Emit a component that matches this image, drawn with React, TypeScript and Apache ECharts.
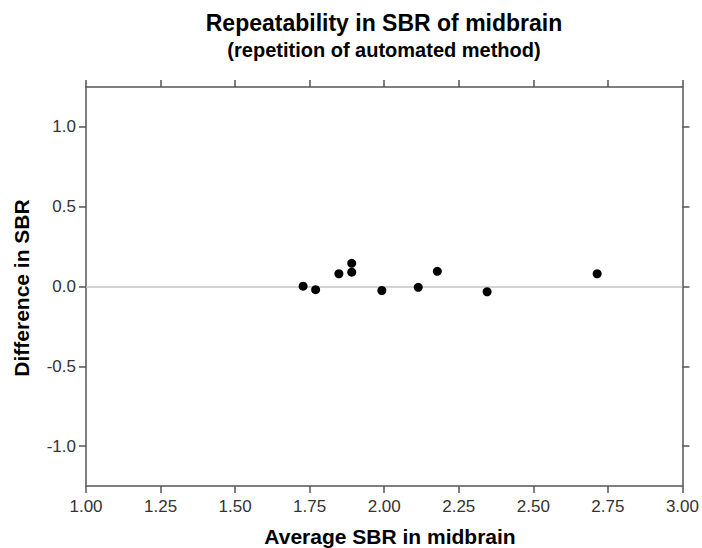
import React, { useEffect, useRef } from "react";
import * as echarts from "echarts";

const titleText = "Repeatability in SBR of midbrain";
const subtitleText = "(repetition of automated method)";
const xName = "Average SBR in midbrain";
const yName = "Difference in SBR";

const averageSBR = [1.728, 1.770, 1.848, 1.891, 1.891, 1.992, 2.114, 2.178, 2.345, 2.714];
const differenceSBR = [0.002, -0.020, 0.080, 0.145, 0.090, -0.025, -0.005, 0.095, -0.033, 0.080];

const xMin = 1.0;
const xMax = 3.0;
const xInterval = 0.25;
const yMin = -1.25;
const yMax = 1.25;
const yTicks = [-1.0, -0.5, 0.0, 0.5, 1.0];
const referenceLine = 0;

const FONT = "'Liberation Sans', Arial, Helvetica, sans-serif";
const AXIS_COLOR = "#555555";

export default function App() {
  const ref = useRef<HTMLDivElement>(null);

  useEffect(() => {
    if (!ref.current) return;
    const chart = echarts.init(ref.current, null, { renderer: "svg" });
    const points = averageSBR.map((x, i) => [x, differenceSBR[i]]);

    const axisLine = { show: true, onZero: false, lineStyle: { color: AXIS_COLOR, width: 1.5 } };
    const axisTick = { show: true, inside: false, length: 7, lineStyle: { color: AXIS_COLOR, width: 1.5 } };

    chart.setOption({
      animation: false,
      backgroundColor: "#ffffff",
      textStyle: { fontFamily: FONT },
      grid: { left: 86, right: 17, top: 87, bottom: 62, containLabel: false },
      xAxis: [
        {
          type: "value",
          position: "bottom",
          min: xMin,
          max: xMax,
          interval: xInterval,
          axisLine,
          axisTick,
          splitLine: { show: false },
          axisLabel: {
            show: true,
            margin: 12,
            color: "#333333",
            fontSize: 17,
            fontFamily: FONT,
            formatter: (v: number) => v.toFixed(2),
          },
        },
        {
          type: "value",
          position: "top",
          min: xMin,
          max: xMax,
          interval: xInterval,
          axisLine,
          axisTick,
          splitLine: { show: false },
          axisLabel: { show: false },
        },
      ],
      yAxis: [
        {
          type: "value",
          position: "left",
          min: yMin,
          max: yMax,
          axisLine,
          axisTick: { ...axisTick, customValues: yTicks },
          splitLine: { show: false },
          axisLabel: {
            show: true,
            customValues: yTicks,
            margin: 10,
            color: "#333333",
            fontSize: 17,
            fontFamily: FONT,
            formatter: (v: number) => v.toFixed(1),
          },
        },
        {
          type: "value",
          position: "right",
          min: yMin,
          max: yMax,
          axisLine,
          axisTick: { ...axisTick, customValues: yTicks },
          splitLine: { show: false },
          axisLabel: { show: false, customValues: yTicks },
        },
      ],
      series: [
        {
          type: "scatter",
          xAxisIndex: 0,
          yAxisIndex: 0,
          data: points,
          symbol: "circle",
          symbolSize: 9,
          itemStyle: { color: "#000000", opacity: 1 },
          z: 5,
          markLine: {
            silent: true,
            symbol: "none",
            label: { show: false },
            lineStyle: { color: "#c4c4c4", width: 1.5, type: "solid" },
            data: [{ yAxis: referenceLine }],
            z: 2,
          },
        },
      ],
      graphic: [
        {
          type: "text",
          x: 384,
          y: 23,
          style: {
            text: titleText,
            font: `bold 23px ${FONT}`,
            fill: "#000000",
            align: "center",
            verticalAlign: "middle",
          },
        },
        {
          type: "text",
          x: 384,
          y: 49.5,
          style: {
            text: subtitleText,
            font: `bold 20px ${FONT}`,
            fill: "#000000",
            align: "center",
            verticalAlign: "middle",
          },
        },
        {
          type: "text",
          x: 390,
          y: 536,
          style: {
            text: xName,
            font: `bold 21px ${FONT}`,
            fill: "#000000",
            align: "center",
            verticalAlign: "middle",
          },
        },
        {
          type: "text",
          x: 21,
          y: 288,
          rotation: Math.PI / 2,
          style: {
            text: yName,
            font: `bold 21px ${FONT}`,
            fill: "#000000",
            align: "center",
            verticalAlign: "middle",
          },
        },
      ],
    });

    return () => chart.dispose();
  }, []);

  return (
    <div
      ref={ref}
      style={{ position: "absolute", left: 0, top: 0, width: 702, height: 548 }}
    />
  );
}
